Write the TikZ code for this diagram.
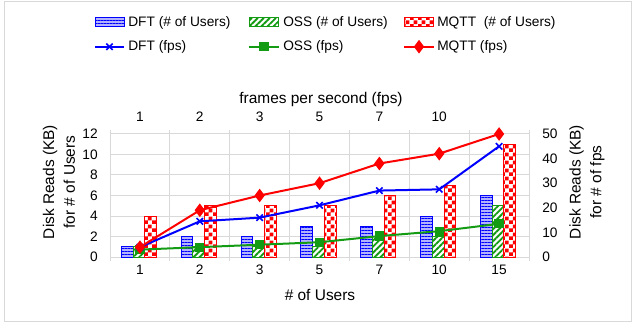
\documentclass[tikz,border=0pt]{standalone}
\usepackage{fontspec}
\setmainfont{Liberation Sans}
\usetikzlibrary{patterns,patterns.meta,plotmarks}
\definecolor{dftblue}{RGB}{0,0,255}
\definecolor{ossgreen}{RGB}{20,155,20}
\definecolor{mqttred}{RGB}{255,0,0}
\definecolor{gridgray}{RGB}{217,217,217}
\pgfdeclarepatternformonly{redchecker}{\pgfpointorigin}{\pgfqpoint{5.7pt}{5.7pt}}{\pgfqpoint{5.7pt}{5.7pt}}{%
  \pgfpathrectangle{\pgfpointorigin}{\pgfqpoint{2.9pt}{2.9pt}}%
  \pgfpathrectangle{\pgfqpoint{2.85pt}{2.85pt}}{\pgfqpoint{2.9pt}{2.9pt}}%
  \pgfusepath{fill}}
\tikzset{
  lbl/.style={font=\fontsize{10.3}{13.5}\selectfont, inner sep=0pt},
  axtitle/.style={font=\fontsize{11.6}{15.5}\selectfont, inner sep=0pt},
  grid line/.style={gridgray, line width=0.75pt},
  dftbar/.style={draw=dftblue, line width=0.75pt, preaction={fill=blue!30}, pattern={Lines[angle=0, distance=2.25pt, line width=0.75pt]}, pattern color=dftblue},
  ossbar/.style={draw=ossgreen, line width=0.75pt, preaction={fill=white}, pattern={Lines[angle=45, distance=3.2pt, line width=1.4pt]}, pattern color=ossgreen},
  mqttbar/.style={draw=mqttred, line width=0.75pt, preaction={fill=white}, pattern=redchecker, pattern color=mqttred},
  dftline/.style={dftblue, line width=1.5pt, mark=x, mark size=3.4pt, mark options={line width=1.2pt}},
  ossline/.style={ossgreen, line width=1.5pt, mark=square*, mark size=2.7pt},
  mqttline/.style={mqttred, line width=1.5pt, mark=diamond*, mark size=3.9pt}
}
\begin{document}
\begin{tikzpicture}[x=0.75pt, y=-0.75pt]
	\useasboundingbox (0,0) rectangle (635,324);
	\draw[gridgray, line width=0.75pt] (4,2) rectangle (631,321);
	% legend
	\draw[dftbar] (95,18) rectangle (124,27);
	\node[lbl, anchor=west] (legdftu) at (128,22.5) {DFT (\# of Users)};
	\draw[ossbar] (249,18) rectangle (278,27);
	\node[lbl, anchor=west] (legossu) at (283,22.5) {OSS (\# of Users)};
	\draw[mqttbar] (404,18) rectangle (433,27);
	\node[lbl, anchor=west] (legmqttu) at (437,22.5) {MQTT\ \ (\# of Users)};
	\draw[dftline, mark indices={2}] plot coordinates {(95,46.7) (109.5,46.7) (124,46.7)};
	\node[lbl, anchor=west] (legdftf) at (128,46.7) {DFT (fps)};
	\draw[ossline, mark indices={2}] plot coordinates {(249,46.7) (264,46.7) (279,46.7)};
	\node[lbl, anchor=west] (legossf) at (283,46.7) {OSS (fps)};
	\draw[mqttline, mark indices={2}] plot coordinates {(404,46.7) (419,46.7) (434,46.7)};
	\node[lbl, anchor=west] (legmqttf) at (437,46.7) {MQTT (fps)};
	% grid
	\foreach \k in {0,...,6} \draw[grid line] (110,{257-\k*20.5}) -- (529,{257-\k*20.5});
	\foreach \k in {0,...,7} \draw[grid line] ({110+\k*59.86},130) -- ({110+\k*59.86},261);
	% axis labels
	\foreach \v [count=\k from 0] in {0,2,...,12} \node[lbl, anchor=east] (ly\k) at (98,{257-\v*10.25}) {\v};
	\foreach \v [count=\k from 0] in {0,10,...,50} \node[lbl, anchor=west] (ry\k) at (542,{257-\v*2.46}) {\v};
	\foreach \u [count=\i] in {1,2,3,5,7,10,15} \node[lbl] (xu\i) at ({80.07+\i*59.86},270) {\u};
	\foreach \u [count=\i] in {1,2,3,5,7,10} \node[lbl] (xf\i) at ({80.07+\i*59.86},117) {\u};
	\node[axtitle] (fpstitle) at (321,100) {frames per second (fps)};
	\node[axtitle] (userstitle) at (320,295) {\# of Users};
	\node[axtitle, rotate=90, align=center] (lefttitle) at (59,182) {Disk Reads (KB)\\for \# of Users};
	\node[axtitle, rotate=90, align=center] (righttitle) at (587,182) {Disk Reads (KB)\\for \# of fps};
	% bars (# of Users)
	\begin{scope}[shift={(80.07,257)}, x=44.895pt, y=7.6875pt]
		\foreach \i/\d/\o/\m in {1/1/1/4, 2/2/1/5, 3/2/1/5, 4/3/1/5, 5/3/2/6, 6/4/2/7, 7/6/5/11} {
			\draw[dftbar] (\i-0.31,0) rectangle (\i-0.115,\d);
			\draw[ossbar] (\i-0.115,0) rectangle (\i+0.08,\o);
			\draw[mqttbar] (\i+0.08,0) rectangle (\i+0.276,\m);
		}
	\end{scope}
	% lines (fps)
	\begin{scope}[shift={(80.07,257)}, x=44.895pt, y=1.845pt]
		\draw[ossline] plot coordinates {(1,3) (2,4) (3,5) (4,6) (5,8.5) (6,10.5) (7,13.5)};
		\draw[dftline] plot coordinates {(1,4) (2,14.5) (3,16) (4,21) (5,27) (6,27.5) (7,45)};
		\draw[mqttline] plot coordinates {(1,4) (2,19) (3,25) (4,30) (5,38) (6,42) (7,50)};
	\end{scope}
\end{tikzpicture}
\end{document}
